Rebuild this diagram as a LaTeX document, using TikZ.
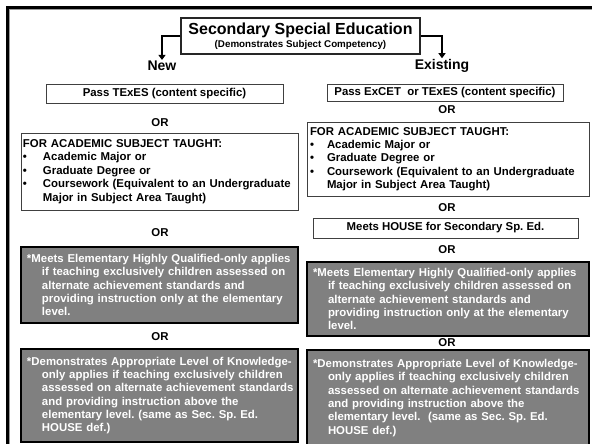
\documentclass[tikz,border=0pt]{standalone}
\usepackage{fontspec}
\setmainfont{Liberation Sans}
\usetikzlibrary{arrows.meta}
\definecolor{boxgrey}{HTML}{808080}
\definecolor{edgegrey}{HTML}{404040}
\definecolor{shadegrey}{HTML}{9A9A9A}
\begin{document}
\frenchspacing
\begin{tikzpicture}[x=1pt,y=-1pt,
  body/.style={font=\fontsize{11.4}{13.3}\selectfont\bfseries},
  titlebox/.style={draw=black!85, line width=1.3pt, fill=white, inner sep=0pt,
    minimum width=239pt, minimum height=36pt, align=center},
  plainbox/.style={body, draw=edgegrey, line width=0.9pt, fill=white,
    inner sep=0pt, align=center},
  listbox/.style={body, draw=edgegrey, line width=0.9pt, fill=white,
    inner ysep=0pt, align=left},
  notebox/.style={body, draw=black, line width=1.6pt, fill=boxgrey, text=white,
    inner xsep=6pt, inner ysep=0pt, align=left},
  orlbl/.style={body, inner sep=1pt},
  headlbl/.style={font=\fontsize{14}{16}\selectfont\bfseries, inner sep=1pt},
  link/.style={line width=2pt, -{Triangle[width=7pt,length=5pt]}}
]
\useasboundingbox (0,0) rectangle (592,444);

% outer frame, open to the right and bottom
\draw[line width=3pt] (7.5,450) -- (7.5,7.5) -- (600,7.5);
\draw[shadegrey, line width=1pt] (9.5,450) -- (9.5,9.5) -- (600,9.5);

% heading
\node[titlebox] (title) at (300.5,36)
  {{\fontsize{16}{17}\selectfont\bfseries Secondary Special Education}\\[1pt]
   {\fontsize{9.8}{11}\selectfont\bfseries (Demonstrates Subject Competency)}};
\node[headlbl] (new) at (162,66) {New};
\node[headlbl] (existing) at (442,66) {Existing};
\draw[link] (title.west) -| (new.north);
\draw[link] (title.east) -| (existing.north);

% ---- left column: new teachers ----
\node[plainbox, minimum width=237pt, minimum height=19pt] (lpass) at (164.5,94)
  {Pass TExES (content specific)};
\node[orlbl] (lor1) at (160,123) {OR};
\node[listbox, inner xsep=2pt, text width=273pt, minimum height=77pt,
      font=\fontsize{11.4}{13.5}\selectfont\bfseries] (lacad) at (159.5,171.5)
  {FOR ACADEMIC SUBJECT TAUGHT:\\
   \makebox[20pt][l]{\textbullet}Academic Major or\\
   \makebox[20pt][l]{\textbullet}Graduate Degree or\\
   \makebox[20pt][l]{\textbullet}\mbox{Coursework (Equivalent to an Undergraduate}\\
   \hspace*{20pt}Major in Subject Area Taught)};
\node[orlbl] (lor2) at (160,233) {OR};
\node[notebox, text width=265pt, minimum height=76pt] (lelem) at (159.5,285)
  {\mbox{*Meets Elementary Highly Qualified-only applies}\\
   \hspace*{15pt}\mbox{if teaching exclusively children assessed on}\\
   \hspace*{15pt}\mbox{alternate achievement standards and}\\
   \hspace*{15pt}\mbox{providing instruction only at the elementary}\\
   \hspace*{15pt}\mbox{level.}};
\node[orlbl] (lor3) at (160,337) {OR};
\node[notebox, text width=265pt, minimum height=93pt] (lknow) at (159.5,395.5)
  {\mbox{*Demonstrates Appropriate Level of Knowledge-}\\
   \hspace*{15pt}\mbox{only applies if teaching exclusively children}\\
   \hspace*{15pt}\mbox{assessed on alternate achievement standards}\\
   \hspace*{15pt}\mbox{and providing instruction above the}\\
   \hspace*{15pt}\mbox{elementary level. (same as Sec. Sp. Ed.}\\
   \hspace*{15pt}\mbox{HOUSE def.)}};

% ---- right column: existing teachers ----
\node[plainbox, minimum width=236pt, minimum height=17pt] (rpass) at (445,93)
  {Pass ExCET\ \ or TExES (content specific)};
\node[orlbl] (ror1) at (447,110) {OR};
\node[listbox, inner xsep=3pt, text width=276pt, minimum height=74pt] (racad) at (448,159)
  {FOR ACADEMIC SUBJECT TAUGHT:\\
   \makebox[17pt][l]{\textbullet}Academic Major or\\
   \makebox[17pt][l]{\textbullet}Graduate Degree or\\
   \makebox[17pt][l]{\textbullet}\mbox{Coursework (Equivalent to an Undergraduate}\\
   \hspace*{17pt}Major in Subject Area Taught)};
\node[orlbl] (ror2) at (447,208) {OR};
\node[plainbox, minimum width=265pt, minimum height=20pt] (rhouse) at (445.5,228)
  {Meets HOUSE for Secondary Sp. Ed.};
\node[orlbl] (ror3) at (447,250) {OR};
\node[notebox, text width=270pt, minimum height=74pt] (relem) at (448,299)
  {\mbox{*Meets Elementary Highly Qualified-only applies}\\
   \hspace*{15pt}\mbox{if teaching exclusively children assessed on}\\
   \hspace*{15pt}\mbox{alternate achievement standards and}\\
   \hspace*{15pt}\mbox{providing instruction only at the elementary}\\
   \hspace*{15pt}\mbox{level.}};
\node[orlbl] (ror4) at (447,343) {OR};
\node[notebox, text width=270pt, minimum height=96pt] (rknow) at (448,398)
  {\mbox{*Demonstrates Appropriate Level of Knowledge-}\\
   \hspace*{15pt}\mbox{only applies if teaching exclusively children}\\
   \hspace*{15pt}\mbox{assessed on alternate achievement standards}\\
   \hspace*{15pt}\mbox{and providing instruction above the}\\
   \hspace*{15pt}\mbox{elementary level.\ \ (same as Sec. Sp. Ed.}\\
   \hspace*{15pt}\mbox{HOUSE def.)}};
\end{tikzpicture}
\end{document}
